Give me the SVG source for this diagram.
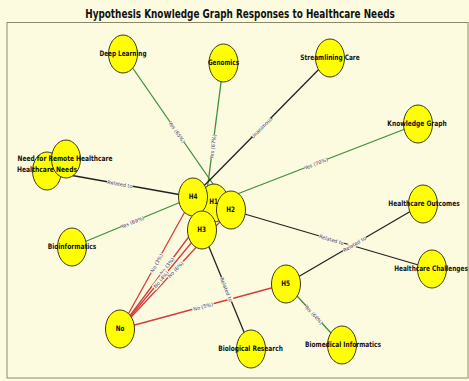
<svg xmlns="http://www.w3.org/2000/svg" width="469" height="381" viewBox="0 0 469 381">
<style>
.node ellipse{fill:#ffff00;stroke:#3a3a1a;stroke-width:1}
.nl{font-family:"DejaVu Sans",sans-serif;font-weight:bold;font-size:7.5px;fill:#111;text-anchor:middle;dominant-baseline:central}
.e{stroke-width:1.3;fill:none}
.g{stroke:#3d8f3d}.k{stroke:#222}.r{stroke:#d43c3c}
.el rect{fill:#fdfbdf}
.el text{font-family:"DejaVu Sans",sans-serif;font-size:5px;fill:#3a3a78;text-anchor:middle;dominant-baseline:central}
.title{font-family:"DejaVu Sans",sans-serif;font-weight:bold;font-size:11.5px;fill:#111;text-anchor:middle}
</style>
<rect x="0" y="0" width="469" height="381" fill="#fdfbdf"/>
<rect x="7" y="22.5" width="461" height="355.5" fill="#fdfbdf" stroke="#8a8a6a" stroke-width="1"/>
<text class="title" transform="translate(240,18) scale(0.8,1)" textLength="387" lengthAdjust="spacingAndGlyphs">Hypothesis Knowledge Graph Responses to Healthcare Needs</text>

<g id="connectors">
<line class="e g" x1="123" y1="54" x2="231" y2="210"/>
<line class="e g" x1="223.5" y1="63" x2="202" y2="230"/>
<line class="e k" x1="330" y1="58" x2="193" y2="197"/>
<line class="e g" x1="418" y1="124" x2="214" y2="203"/>
<line class="e k" x1="47" y1="171" x2="193" y2="197"/>
<line class="e g" x1="72" y1="247" x2="193" y2="197"/>
<line class="e k" x1="231" y1="210" x2="432" y2="269"/>
<line class="e k" x1="423" y1="204" x2="286" y2="284"/>
<line class="e k" x1="202" y1="230" x2="251" y2="349"/>
<line class="e g" x1="286" y1="284" x2="342" y2="345"/>
<line class="e r" x1="120" y1="329" x2="286" y2="284"/>
<line class="e r" x1="120" y1="329" x2="193" y2="197"/>
<line class="e r" x1="120" y1="329" x2="214" y2="203"/>
<line class="e r" x1="120" y1="329" x2="231" y2="210"/>
<line class="e r" x1="120" y1="329" x2="202" y2="230"/>
</g>

<g id="node-deep-learning" class="node"><ellipse cx="123" cy="54" rx="14.5" ry="19"/></g>
<g id="node-genomics" class="node"><ellipse cx="223.5" cy="63" rx="14.5" ry="19"/></g>
<g id="node-streamlining-care" class="node"><ellipse cx="330" cy="58" rx="14.5" ry="19"/></g>
<g id="node-knowledge-graph" class="node"><ellipse cx="418" cy="124" rx="14.5" ry="19"/></g>
<g id="node-healthcare-needs" class="node"><ellipse cx="47" cy="171" rx="14.5" ry="19"/></g>
<g id="node-need-remote" class="node"><ellipse cx="66" cy="159" rx="14.5" ry="19"/></g>
<g id="node-bioinformatics" class="node"><ellipse cx="72" cy="247" rx="14.5" ry="19"/></g>
<g id="node-h1" class="node"><ellipse cx="214" cy="203" rx="14.5" ry="19"/></g>
<g id="node-h2" class="node"><ellipse cx="231" cy="210" rx="14.5" ry="19"/></g>
<g id="node-h4" class="node"><ellipse cx="193" cy="197" rx="14.5" ry="19"/></g>
<g id="node-h3" class="node"><ellipse cx="202" cy="230" rx="14.5" ry="19"/></g>
<g id="node-no" class="node"><ellipse cx="120" cy="329" rx="14.5" ry="19"/></g>
<g id="node-h5" class="node"><ellipse cx="286" cy="284" rx="14.5" ry="19"/></g>
<g id="node-biological-research" class="node"><ellipse cx="251" cy="349" rx="14.5" ry="19"/></g>
<g id="node-biomedical-informatics" class="node"><ellipse cx="342" cy="345" rx="14.5" ry="19"/></g>
<g id="node-healthcare-outcomes" class="node"><ellipse cx="423" cy="204" rx="14.5" ry="19"/></g>
<g id="node-healthcare-challenges" class="node"><ellipse cx="432" cy="269" rx="14.5" ry="19"/></g>

<g id="node-labels">
<text class="nl" transform="translate(123,54) scale(0.76,1)" textLength="62" lengthAdjust="spacingAndGlyphs">Deep Learning</text>
<text class="nl" transform="translate(223.5,63) scale(0.76,1)" textLength="41" lengthAdjust="spacingAndGlyphs">Genomics</text>
<text class="nl" transform="translate(330,58) scale(0.76,1)" textLength="78" lengthAdjust="spacingAndGlyphs">Streamlining Care</text>
<text class="nl" transform="translate(417,124) scale(0.76,1)" textLength="78" lengthAdjust="spacingAndGlyphs">Knowledge Graph</text>
<text class="nl" transform="translate(65,158.5) scale(0.76,1)" textLength="125" lengthAdjust="spacingAndGlyphs">Need for Remote Healthcare</text>
<text class="nl" transform="translate(47,170) scale(0.76,1)" textLength="79" lengthAdjust="spacingAndGlyphs">Healthcare Needs</text>
<text class="nl" transform="translate(72,247) scale(0.76,1)" textLength="64" lengthAdjust="spacingAndGlyphs">Bioinformatics</text>
<text class="nl" transform="translate(213.5,202) scale(0.76,1)">H1</text>
<text class="nl" transform="translate(230.5,210) scale(0.76,1)">H2</text>
<text class="nl" transform="translate(193,196.5) scale(0.76,1)">H4</text>
<text class="nl" transform="translate(201.5,229.5) scale(0.76,1)">H3</text>
<text class="nl" transform="translate(120,329) scale(0.76,1)">No</text>
<text class="nl" transform="translate(285.5,284) scale(0.76,1)">H5</text>
<text class="nl" transform="translate(250.5,349) scale(0.76,1)" textLength="85" lengthAdjust="spacingAndGlyphs">Biological Research</text>
<text class="nl" transform="translate(343,345) scale(0.76,1)" textLength="100" lengthAdjust="spacingAndGlyphs">Biomedical Informatics</text>
<text class="nl" transform="translate(424,204) scale(0.76,1)" textLength="94" lengthAdjust="spacingAndGlyphs">Healthcare Outcomes</text>
<text class="nl" transform="translate(431,269) scale(0.76,1)" textLength="97" lengthAdjust="spacingAndGlyphs">Healthcare Challenges</text>
</g>

<g id="edge-labels" class="el">
<g transform="translate(177,132) rotate(55.3)"><rect x="-12" y="-3" width="24" height="6"/><text>Yes (65%)</text></g>
<g transform="translate(212.75,146.5) rotate(-82.7)"><rect x="-12" y="-3" width="24" height="6"/><text>Yes (67%)</text></g>
<g transform="translate(261.5,127.5) rotate(-45.4)"><rect x="-13" y="-3" width="26" height="6"/><text>Unanimous</text></g>
<g transform="translate(316,163.5) rotate(-21.2)"><rect x="-12" y="-3" width="24" height="6"/><text>Yes (70%)</text></g>
<g transform="translate(120,184) rotate(10.1)"><rect x="-13" y="-3" width="26" height="6"/><text>Related to</text></g>
<g transform="translate(132.5,222) rotate(-22.5)"><rect x="-12" y="-3" width="24" height="6"/><text>Yes (69%)</text></g>
<g transform="translate(331.5,239.5) rotate(16.4)"><rect x="-13" y="-3" width="26" height="6"/><text>Related to</text></g>
<g transform="translate(354.5,244) rotate(-30.3)"><rect x="-13" y="-3" width="26" height="6"/><text>Related to</text></g>
<g transform="translate(226.5,289.5) rotate(67.6)"><rect x="-13" y="-3" width="26" height="6"/><text>Related to</text></g>
<g transform="translate(314,314.5) rotate(47.4)"><rect x="-12" y="-3" width="24" height="6"/><text>Yes (66%)</text></g>
<g transform="translate(203,306.5) rotate(-15.2)"><rect x="-11" y="-3" width="22" height="6"/><text>No (5%)</text></g>
<g transform="translate(167,266) rotate(-53.3)"><rect x="-11" y="-3" width="22" height="6"/><text>No (3%)</text></g>
<g transform="translate(175.5,269.5) rotate(-47)"><rect x="-11" y="-3" width="22" height="6"/><text>No (6%)</text></g>
<g transform="translate(161,279.5) rotate(-50.4)"><rect x="-11" y="-3" width="22" height="6"/><text>No (4%)</text></g>
<g transform="translate(156.5,263) rotate(-61.1)"><rect x="-11" y="-3" width="22" height="6"/><text>No (3%)</text></g>
</g>
</svg>
